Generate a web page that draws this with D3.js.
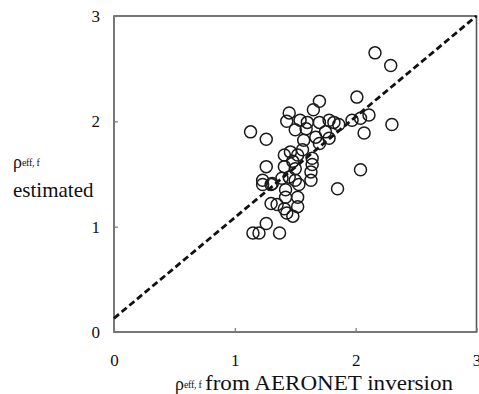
<!DOCTYPE html>
<html>
<head>
<meta charset="utf-8">
<script src="https://cdn.jsdelivr.net/npm/d3@7"></script>
<style>
  html, body { margin: 0; padding: 0; background: #fff; }
  svg { display: block; }
  text { font-family: "Liberation Serif", "Times New Roman", serif; fill: #111; }
</style>
</head>
<body>
<svg id="chart" width="479" height="394"></svg>
<script>
// Effective fine-mode value: AERONET inversion (x) vs. estimated (y)
const aeronet = [
  2.16, 2.29, 2.01, 1.70, 1.45, 1.43, 1.65, 1.54, 1.60, 1.70,
  1.78, 1.82, 1.86, 1.97, 2.04, 2.11, 1.13, 1.26, 2.07, 2.30,
  1.50, 1.59, 1.75, 1.78, 1.67, 1.57, 1.70, 1.56, 1.46, 1.41,
  1.52, 1.64, 1.48, 1.41, 1.26, 1.50, 1.64, 1.63, 2.04, 1.23,
  1.31, 1.39, 1.45, 1.50, 1.63, 1.23, 1.85, 1.53, 1.42, 1.30,
  1.42, 1.52, 1.30, 1.35, 1.41, 1.52, 1.48, 1.43, 1.26, 1.15,
  1.20, 1.37
];
const estimated = [
  2.65, 2.53, 2.23, 2.19, 2.08, 2.00, 2.11, 2.01, 1.99, 1.99,
  2.01, 1.99, 1.97, 2.01, 2.03, 2.06, 1.90, 1.83, 1.89, 1.97,
  1.92, 1.93, 1.90, 1.84, 1.85, 1.82, 1.79, 1.73, 1.71, 1.68,
  1.68, 1.65, 1.62, 1.57, 1.57, 1.55, 1.59, 1.52, 1.54, 1.44,
  1.41, 1.46, 1.47, 1.44, 1.44, 1.40, 1.36, 1.40, 1.35, 1.40,
  1.28, 1.28, 1.22, 1.21, 1.17, 1.19, 1.10, 1.13, 1.03, 0.94,
  0.94, 0.94
];
// Regression line end points
const fitX = [0, 3];
const fitY = [0.13, 3];
const xTicks = [0, 1, 2, 3];
const yTicks = [0, 1, 2, 3];

const svg = d3.select("#chart");
const plotLeft = 114, plotRight = 476.5, plotTop = 16, plotBottom = 332;

const x = d3.scaleLinear().domain([0, 3]).range([plotLeft, plotRight]);
const y = d3.scaleLinear().domain([0, 3]).range([plotBottom, plotTop]);

// Plot frame
svg.append("rect")
  .attr("x", plotLeft).attr("y", plotTop)
  .attr("width", plotRight - plotLeft).attr("height", plotBottom - plotTop)
  .attr("fill", "none").attr("stroke", "#555").attr("stroke-width", 1.6);

// Bottom axis: inward ticks, labels set lower
const xAxis = svg.append("g")
  .attr("transform", `translate(0,${plotBottom})`)
  .call(d3.axisBottom(x).tickValues(xTicks).tickFormat(d3.format("d"))
    .tickSizeInner(-4).tickSizeOuter(0).tickPadding(22));
xAxis.attr("font-family", '"Liberation Serif", serif').attr("font-size", 17);
xAxis.select(".domain").remove();
xAxis.selectAll("line").attr("stroke", "#777").attr("stroke-width", 1.2);
xAxis.selectAll("text").attr("fill", "#111");

// Left axis: inward ticks
const yAxis = svg.append("g")
  .attr("transform", `translate(${plotLeft},0)`)
  .call(d3.axisLeft(y).tickValues(yTicks).tickFormat(d3.format("d"))
    .tickSizeInner(-4).tickSizeOuter(0).tickPadding(14));
yAxis.attr("font-family", '"Liberation Serif", serif').attr("font-size", 17);
yAxis.select(".domain").remove();
yAxis.selectAll("line").attr("stroke", "#777").attr("stroke-width", 1.2);
yAxis.selectAll("text").attr("fill", "#111");

// Regression line
svg.append("line")
  .attr("x1", x(fitX[0])).attr("y1", y(fitY[0]))
  .attr("x2", x(fitX[1])).attr("y2", y(fitY[1]))
  .attr("stroke", "#111").attr("stroke-width", 2.8)
  .attr("stroke-dasharray", "6.5,3.5");

// Scatter points as open circles
svg.append("g").selectAll("circle")
  .data(aeronet.map((v, i) => [v, estimated[i]]))
  .join("circle")
  .attr("cx", d => x(d[0]))
  .attr("cy", d => y(d[1]))
  .attr("r", 6)
  .attr("fill", "none")
  .attr("stroke", "#1a1a1a")
  .attr("stroke-width", 1.5);

// Y-axis title
const yt = svg.append("text").attr("x", 13).attr("y", 168);
yt.append("tspan").style("font-size", "18px").text("ρ");
yt.append("tspan").style("font-size", "10px").style("letter-spacing", "-0.3px").attr("dy", -2).text("eff, f");
svg.append("text").attr("x", 13).attr("y", 197)
  .style("font-size", "21px").text("estimated");

// X-axis title
const xt = svg.append("text").attr("x", 175).attr("y", 390);
xt.append("tspan").style("font-size", "18px").text("ρ");
xt.append("tspan").style("font-size", "10px").style("letter-spacing", "-0.3px").attr("dy", -2).text("eff, f");
svg.append("text").attr("x", 205).attr("y", 390)
  .attr("textLength", 248).attr("lengthAdjust", "spacingAndGlyphs")
  .style("font-size", "21px").text("from AERONET inversion");
</script>
</body>
</html>
